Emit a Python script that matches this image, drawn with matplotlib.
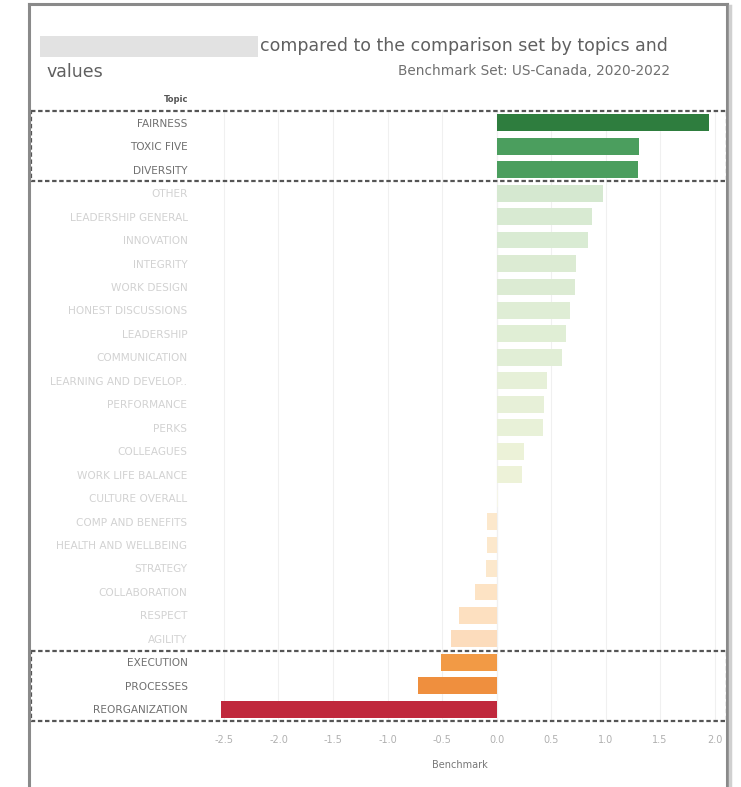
import matplotlib
matplotlib.use("Agg")
import matplotlib.pyplot as plt
from matplotlib.patches import Rectangle
import matplotlib.transforms as mtransforms

topics = ["FAIRNESS", "TOXIC FIVE", "DIVERSITY", "OTHER", "LEADERSHIP GENERAL",
          "INNOVATION", "INTEGRITY", "WORK DESIGN", "HONEST DISCUSSIONS",
          "LEADERSHIP", "COMMUNICATION", "LEARNING AND DEVELOP..", "PERFORMANCE",
          "PERKS", "COLLEAGUES", "WORK LIFE BALANCE", "CULTURE OVERALL",
          "COMP AND BENEFITS", "HEALTH AND WELLBEING", "STRATEGY", "COLLABORATION",
          "RESPECT", "AGILITY", "EXECUTION", "PROCESSES", "REORGANIZATION"]
benchmark = [1.95, 1.31, 1.30, 0.98, 0.88, 0.84, 0.73, 0.72, 0.67, 0.64, 0.60,
             0.46, 0.44, 0.43, 0.25, 0.23, 0.01, -0.09, -0.09, -0.10, -0.20,
             -0.34, -0.42, -0.51, -0.72, -2.53]
highlight = [True, True, True] + [False] * 20 + [True, True, True]
xticks = [-2.5, -2.0, -1.5, -1.0, -0.5, 0.0, 0.5, 1.0, 1.5, 2.0]

bar_colors = ["#2e7d3e", "#4b9e5e", "#4b9e5e", "#d5e8d0", "#d8ead2", "#d9ebd3",
              "#dcebd3", "#dcebd3", "#dfedd5", "#e0eed5", "#e1eed6", "#e6f0d8",
              "#e7f0d8", "#e8f1d8", "#ecf2d8", "#edf2d8", "#f5f5e8", "#fce8cc",
              "#fce8cc", "#fce8cc", "#fde3c4", "#fde0c0", "#fcdcbc", "#f29a45",
              "#ef8f3e", "#c0283c"]

W, H = 741, 787
fig = plt.figure(figsize=(W / 100, H / 100), dpi=100)
fig.patch.set_facecolor("white")

def fx(px):
    return px / W

def fy(py):
    return 1 - py / H

# frame of the screenshot
frame_t = fig.transFigure
fig.add_artist(plt.Line2D([fx(29), fx(29)], [fy(4), 0], transform=frame_t, color="#8a8a8a", lw=2.2, zorder=10))
fig.add_artist(plt.Line2D([fx(29), fx(727)], [fy(4), fy(4)], transform=frame_t, color="#8a8a8a", lw=2.2, zorder=10))
fig.add_artist(plt.Line2D([fx(727), fx(727)], [fy(4), 0], transform=frame_t, color="#8a8a8a", lw=2.2, zorder=10))
fig.add_artist(plt.Line2D([fx(730), fx(730)], [fy(6), 0], transform=frame_t, color="#d0d0d0", lw=2.5, zorder=10))

ax_left, ax_right = 200, 720
ax_top, ax_bottom = 111, 721
ax = fig.add_axes([fx(ax_left), fy(ax_bottom), (ax_right - ax_left) / W, (ax_bottom - ax_top) / H])

y = list(range(len(topics)))
ax.barh(y, benchmark, height=0.72, color=bar_colors, zorder=3)
ax.set_ylim(len(topics) - 0.5, -0.5)
ax.set_xlim(-2.72, 2.05)

ax.set_xticks(xticks)
ax.set_xticklabels([f"{t:.1f}" for t in xticks], fontsize=7, color="#b0b0b0")
ax.set_yticks(y)
ax.set_yticklabels(topics, fontsize=7.6)
for lbl, hl in zip(ax.get_yticklabels(), highlight):
    lbl.set_color("#707070" if hl else "#d2d2d2")
ax.tick_params(axis="x", length=0, pad=10)
ax.tick_params(axis="y", length=0, pad=9)
for s in ax.spines.values():
    s.set_visible(False)
ax.grid(axis="x", color="#f0f0f0", lw=0.8, zorder=0)
ax.axvline(0, color="#e8e8e8", lw=0.8, zorder=1)
ax.set_xlabel("Benchmark", fontsize=7, color="#777777", labelpad=11)

# dashed highlight boxes spanning label area and plot
bt = mtransforms.blended_transform_factory(fig.transFigure, ax.transData)
for y0, y1 in [(-0.5, 2.5), (22.5, 25.5)]:
    r = Rectangle((fx(31), y0), fx(727) - fx(31), y1 - y0, transform=bt, fill=False,
                  edgecolor="#555555", lw=1.6, linestyle=(0, (2, 1.2)), clip_on=False, zorder=5)
    fig.add_artist(r)

# title block
fig.add_artist(Rectangle((fx(40), fy(57)), fx(258) - fx(40), (57 - 36) / H,
                         transform=fig.transFigure, facecolor="#e2e2e2", edgecolor="none"))
fig.text(fx(260), fy(46), "compared to the comparison set by topics and", fontsize=12.5,
         color="#606060", ha="left", va="center")
fig.text(fx(46), fy(72), "values", fontsize=12.5, color="#606060", ha="left", va="center")
fig.text(fx(670), fy(71), "Benchmark Set: US-Canada, 2020-2022", fontsize=9.8,
         color="#707070", ha="right", va="center")
fig.text(fx(176), fy(100), "Topic", fontsize=6, color="#555555", ha="center", va="center",
         fontweight="bold")

fig.savefig("out.png", dpi=100, facecolor="white")
